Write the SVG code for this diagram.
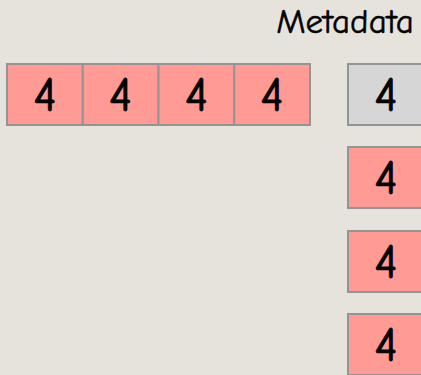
<svg xmlns="http://www.w3.org/2000/svg" width="421" height="375" viewBox="0 0 421 375">
<style>
.r{fill:#ff9a94;stroke:#949494;stroke-width:2}
.g{fill:#d6d6d6;stroke:#949494;stroke-width:2}
.t{font-family:"Comic Neue","DejaVu Sans",sans-serif;font-size:48px;font-weight:400;fill:#000;stroke:#000;stroke-width:0.8;text-anchor:middle}
.h{font-family:"Comic Neue","DejaVu Sans",sans-serif;font-size:35px;font-weight:400;fill:#000;stroke:#000;stroke-width:0.5;text-anchor:middle}
</style>
<rect width="421" height="375" fill="#e6e3dc"/>
<text class="h" x="345" y="33">Metadata</text>
<g id="a0"><rect class="r" x="7" y="64" width="75.75" height="61"/><text class="t" x="45" y="111">4</text></g>
<g id="a1"><rect class="r" x="82.75" y="64" width="75.75" height="61"/><text class="t" x="120.7" y="111">4</text></g>
<g id="a2"><rect class="r" x="158.5" y="64" width="75.75" height="61"/><text class="t" x="196.5" y="111">4</text></g>
<g id="a3"><rect class="r" x="234.25" y="64" width="75.75" height="61"/><text class="t" x="272.2" y="111">4</text></g>
<g id="m0"><rect class="g" x="348" y="64" width="76" height="61"/><text class="t" x="386" y="111">4</text></g>
<g id="m1"><rect class="r" x="348" y="147" width="76" height="61"/><text class="t" x="386" y="194">4</text></g>
<g id="m2"><rect class="r" x="348" y="231" width="76" height="61"/><text class="t" x="386" y="278">4</text></g>
<g id="m3"><rect class="r" x="348" y="314" width="76" height="61"/><text class="t" x="386" y="361">4</text></g>
<g id="connectors"/>
</svg>
